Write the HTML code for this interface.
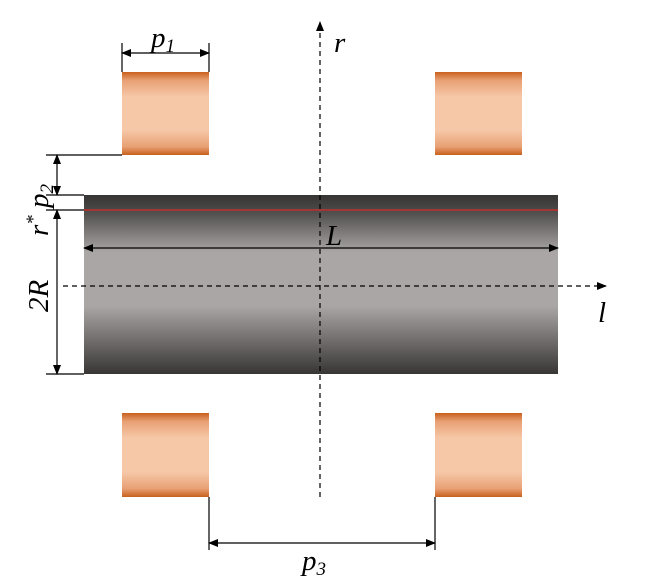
<!DOCTYPE html>
<html><head><style>body{margin:0;background:#fff}svg{display:block}</style></head><body>
<svg width="652" height="583" viewBox="0 0 652 583" xmlns="http://www.w3.org/2000/svg">
<defs>
<linearGradient id="cu" x1="0" y1="0" x2="0" y2="1">
<stop offset="0" stop-color="#c8601e"/><stop offset="0.1" stop-color="#e8a074"/><stop offset="0.3" stop-color="#f6c8a8"/><stop offset="0.7" stop-color="#f6c8a8"/><stop offset="0.9" stop-color="#e8a074"/><stop offset="1" stop-color="#c8601e"/>
</linearGradient>
<linearGradient id="cyl" x1="0" y1="0" x2="0" y2="1">
<stop offset="0" stop-color="#373434"/><stop offset="0.08" stop-color="#4a4747"/><stop offset="0.32" stop-color="#aaa6a5"/><stop offset="0.62" stop-color="#aaa6a5"/><stop offset="1" stop-color="#383535"/>
</linearGradient>
<marker id="a" markerWidth="10" markerHeight="8" refX="9" refY="4" orient="auto-start-reverse" markerUnits="userSpaceOnUse"><path d="M0,0L10,4L0,8z" fill="#000"/></marker>
</defs>
<rect x="122" y="72" width="87" height="83" fill="url(#cu)"/>
<rect x="435" y="72" width="87" height="83" fill="url(#cu)"/>
<rect x="122" y="413" width="87" height="84" fill="url(#cu)"/>
<rect x="435" y="413" width="87" height="84" fill="url(#cu)"/>
<rect x="84" y="195" width="474" height="179" fill="url(#cyl)"/>
<line x1="84" y1="210" x2="558" y2="210" stroke="#c0302a" stroke-width="1.5"/>
<g stroke="#000" stroke-width="1.2" fill="none">
<line x1="320" y1="497" x2="320" y2="22" stroke-dasharray="5,4" marker-end="url(#a)"/>
<line x1="63" y1="286" x2="606" y2="286" stroke-dasharray="5,4" marker-end="url(#a)"/>
<line x1="84" y1="248" x2="558" y2="248" marker-start="url(#a)" marker-end="url(#a)"/>
<line x1="122" y1="53" x2="209" y2="53" marker-start="url(#a)" marker-end="url(#a)"/>
<line x1="122" y1="43" x2="122" y2="72"/><line x1="209" y1="43" x2="209" y2="72"/>
<line x1="209" y1="543" x2="435" y2="543" marker-start="url(#a)" marker-end="url(#a)"/>
<line x1="209" y1="497" x2="209" y2="550"/><line x1="435" y1="497" x2="435" y2="550"/>
<line x1="46" y1="155" x2="122" y2="155"/>
<line x1="46" y1="195" x2="84" y2="195"/>
<line x1="46" y1="210" x2="84" y2="210"/>
<line x1="46" y1="374" x2="84" y2="374"/>
<line x1="57" y1="155" x2="57" y2="195" marker-start="url(#a)" marker-end="url(#a)"/>
<line x1="57" y1="210" x2="57" y2="374" marker-start="url(#a)" marker-end="url(#a)"/>
</g>
<g font-family="Liberation Serif, serif" font-style="italic" font-size="29" fill="#000">
<text x="151" y="47">p<tspan font-size="19" dy="5">1</tspan></text>
<text x="334" y="52">r</text>
<text x="326" y="245">L</text>
<text x="598" y="322">l</text>
<text x="302" y="570">p<tspan font-size="19" dy="5">3</tspan></text>
<text transform="translate(48,236) rotate(-90)">r<tspan font-size="19" dy="-9">*</tspan><tspan dy="9"> p</tspan><tspan font-size="19" dy="5">2</tspan></text>
<text transform="translate(48,312) rotate(-90)">2R</text>
</g>
</svg>
</body></html>
